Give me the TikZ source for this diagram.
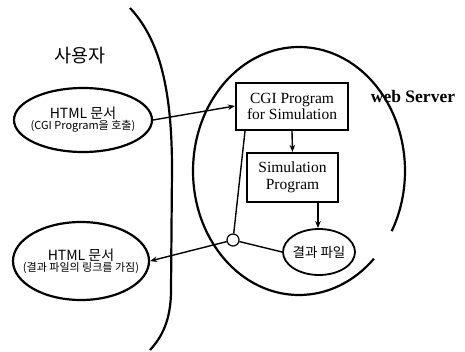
\documentclass[tikz,border=0pt]{standalone}
\usepackage{fontspec}
\setmainfont{Liberation Serif}
\newfontfamily\kr{Noto Sans CJK KR}
\usetikzlibrary{arrows.meta,shapes.geometric}
\begin{document}
\begin{tikzpicture}[x=1pt,y=-1pt,
  thick/.style={line width=2.2pt},
  conn/.style={line width=1.4pt},
  arr/.style={conn,-{Stealth[length=7pt,width=5.5pt]}},
  ellnode/.style={draw,ellipse,line width=2.2pt,inner sep=0pt},
  etext/.style={align=center,font=\kr,inner sep=0pt},
  boxn/.style={draw,line width=2.2pt,align=center,inner sep=0pt,font=\fontsize{15.5}{16.5}\selectfont}]
\useasboundingbox (0,0) rectangle (465,351);
% user boundary curve
\draw[thick] (130,8) .. controls (160,40) and (172,90) .. (172,170) -- (171,290) .. controls (171,320) and (162,337) .. (150,350);
\node[font=\kr\fontsize{18.5}{20}\selectfont] (user) at (80,56) {사용자};
% server ellipse with gap
\draw[thick] (299,171) ++(45:106 and 124) arc[start angle=45,end angle=389,x radius=106,y radius=124];
\node[font=\bfseries\fontsize{17.5}{18}\selectfont] (ws) at (413,97) {web Server};
% left ellipses
\node[ellnode,minimum width=138pt,minimum height=64pt] (h1) at (83,120) {};
\node[etext] (h1t) at (h1.center)
  {{\fontsize{14}{16}\selectfont HTML 문서}\\[-1pt]{\fontsize{11}{13}\selectfont (CGI Program을 호출)}};
\node[ellnode,minimum width=136pt,minimum height=78pt] (h2) at (81,261) {};
\node[etext] (h2t) at (h2.center)
  {{\fontsize{14}{16}\selectfont HTML 문서}\\[-1pt]{\fontsize{11}{13}\selectfont (결과 파일의 링크를 가짐)}};
% boxes
\node[boxn,minimum width=112pt,minimum height=47pt] (cgi) at (292,106.5) {CGI Program\\for Simulation};
\node[boxn,minimum width=91pt,minimum height=49pt] (sim) at (292.5,177.5) {Simulation\\Program};
\node[draw,ellipse,line width=1.8pt,minimum width=72pt,minimum height=46pt,inner sep=0pt] (res) at (319,252) {};
\node[font=\kr\fontsize{13.5}{15}\selectfont,inner sep=0pt] (rest) at (res.center) {결과 파일};
\node[draw,circle,line width=1.2pt,minimum size=12pt,inner sep=0pt,fill=white] (j) at (233,240) {};
% connectors
\draw[arr] (h1.east) -- (cgi.west |- 0,106);
\draw[arr] (cgi.south) -- (sim.north);
\draw[arr] (sim.south -| 318,0) -- (res.north -| 318,0);
\draw[conn] (cgi.south west -| 245,0) -- (j);
\draw[conn] (j) -- (res.west);
\draw[arr] (j) -- (h2.east);
\end{tikzpicture}
\end{document}
